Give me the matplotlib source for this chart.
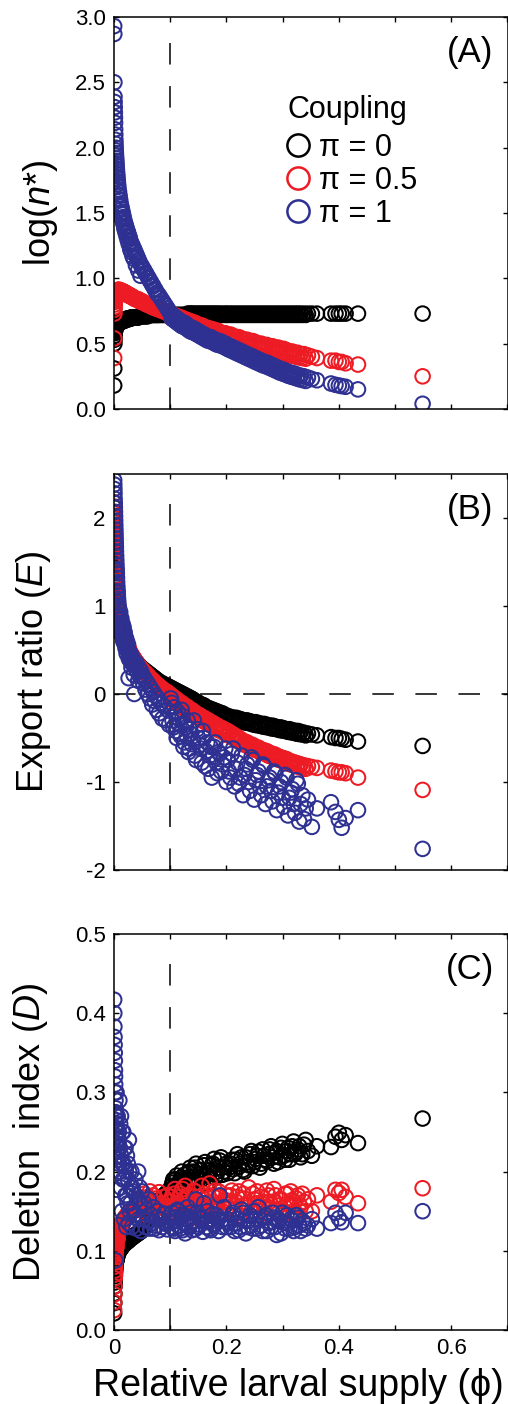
import numpy as np
import matplotlib
matplotlib.use('Agg')
import matplotlib.pyplot as plt
from matplotlib.lines import Line2D

plt.rcParams['font.family'] = ['Liberation Sans', 'DejaVu Sans']
plt.rcParams['mathtext.fontset'] = 'custom'
plt.rcParams['mathtext.it'] = 'Liberation Sans:italic'
plt.rcParams['mathtext.rm'] = 'Liberation Sans'
plt.rcParams['axes.unicode_minus'] = False
plt.rcParams['lines.scale_dashes'] = False

# ---------------- data ----------------
coupling_labels = ['π = 0', 'π = 0.5', 'π = 1']
colors = ['#000000', '#ed1c24', '#2e3192']
panel_letters = ['(A)', '(B)', '(C)']
xtick_vals = [0.0, 0.1, 0.2, 0.3, 0.4, 0.5, 0.6, 0.7]
xtick_labels = ['0', '', '0.2', '', '0.4', '', '0.6', '']
threshold_phi = 0.1

phi = [0.0003, 0.0005, 0.0007, 0.0009, 0.0011, 0.0013, 0.0015, 0.0017, 0.0019, 0.0021,
       0.0023, 0.0025, 0.0027, 0.0029, 0.0031, 0.0033, 0.0035, 0.0038, 0.0041, 0.0044,
       0.0047, 0.0050, 0.0053, 0.0056, 0.0060, 0.0064, 0.0068, 0.0072, 0.0076, 0.0080,
       0.009, 0.010, 0.011, 0.012, 0.013, 0.014, 0.015, 0.016, 0.017, 0.018,
       0.019, 0.020, 0.021, 0.022, 0.023, 0.024, 0.025, 0.026, 0.027, 0.028,
       0.030, 0.032, 0.034, 0.036, 0.038, 0.040, 0.042, 0.044, 0.046, 0.048,
       0.050, 0.052, 0.054, 0.056, 0.058, 0.060, 0.062, 0.064, 0.066, 0.068, 0.070,
       0.072, 0.074, 0.076, 0.078, 0.080, 0.083, 0.086, 0.089, 0.092, 0.095, 0.098,
       0.101, 0.104, 0.107, 0.110, 0.113, 0.116, 0.119, 0.122, 0.125, 0.128,
       0.131, 0.134, 0.137, 0.140, 0.144, 0.148, 0.152, 0.156, 0.160, 0.164,
       0.168, 0.172, 0.176, 0.180, 0.184, 0.188, 0.193, 0.198,
       0.202, 0.207, 0.212, 0.217, 0.222, 0.227, 0.232, 0.237, 0.242, 0.247,
       0.252, 0.257, 0.262, 0.267, 0.272, 0.277, 0.282, 0.287, 0.292, 0.297,
       0.302, 0.307, 0.312, 0.317, 0.322, 0.327, 0.332, 0.338,
       0.345, 0.352, 0.361, 0.386, 0.394, 0.400, 0.405, 0.412, 0.434, 0.549,
       # additional populations (near zero)
       0.0045, 0.0065, 0.0085, 0.0095, 0.0105, 0.0125, 0.0145, 0.0165, 0.0185, 0.0205,
       0.0225, 0.0245, 0.0265, 0.029, 0.031, 0.033, 0.035, 0.039, 0.043, 0.047,
       # additional populations (mid range)
       0.1025, 0.1055, 0.1085, 0.1115, 0.1145, 0.1175, 0.1205, 0.1235, 0.1265, 0.1295,
       0.1325, 0.1355, 0.1385, 0.142, 0.146, 0.150, 0.154, 0.158, 0.162, 0.166,
       0.170, 0.174, 0.178, 0.182, 0.186, 0.1905, 0.1955, 0.200,
       0.2045, 0.2095, 0.2145, 0.2195, 0.2245, 0.2295, 0.2345, 0.2395, 0.2445, 0.2495,
       0.2545, 0.2595, 0.2645, 0.2695, 0.2745, 0.2795, 0.2845, 0.2895, 0.2945, 0.2995,
       0.3045, 0.3095, 0.3145, 0.3195, 0.3245, 0.3295, 0.335, 0.341]

# Panel A: log(n*)
logn_pi0 = [0.18, 0.31, 0.50, 0.53, 0.56, 0.58, 0.59, 0.60, 0.60, 0.61,
            0.61, 0.62, 0.62, 0.62, 0.63, 0.63, 0.63, 0.63, 0.64, 0.64,
            0.64, 0.64, 0.65, 0.65, 0.65, 0.65, 0.65, 0.66, 0.66, 0.66,
            0.66, 0.66, 0.67, 0.67, 0.67, 0.67, 0.67, 0.68, 0.68, 0.68,
            0.68, 0.68, 0.68, 0.69, 0.69, 0.69, 0.69, 0.69, 0.69, 0.69,
            0.70, 0.70, 0.70, 0.70, 0.70, 0.70, 0.70, 0.71, 0.71, 0.71,
            0.71, 0.71, 0.71, 0.71, 0.71, 0.71, 0.72, 0.72, 0.72, 0.72, 0.72,
            0.72, 0.72, 0.72, 0.72, 0.72, 0.72, 0.72, 0.72, 0.72, 0.72, 0.72,
            0.72, 0.72, 0.72, 0.72, 0.72, 0.72, 0.72, 0.72, 0.72, 0.72,
            0.73, 0.73, 0.73, 0.73, 0.73, 0.73, 0.73, 0.73, 0.73, 0.73,
            0.73, 0.73, 0.73, 0.73, 0.73, 0.73, 0.73, 0.73,
            0.73, 0.73, 0.73, 0.73, 0.73, 0.73, 0.73, 0.73, 0.73, 0.73,
            0.73, 0.73, 0.73, 0.73, 0.73, 0.73, 0.73, 0.73, 0.73, 0.73,
            0.73, 0.73, 0.73, 0.73, 0.73, 0.73, 0.73, 0.73,
            0.73, 0.73, 0.73, 0.73, 0.73, 0.73, 0.73, 0.73, 0.73, 0.73,
            0.64, 0.65, 0.66, 0.66, 0.66, 0.67, 0.67, 0.68, 0.68, 0.68,
            0.69, 0.69, 0.69, 0.69, 0.70, 0.70, 0.70, 0.70, 0.70, 0.71,
            0.715, 0.715, 0.715, 0.715, 0.715, 0.715, 0.715, 0.715, 0.715, 0.72,
            0.72, 0.72, 0.72, 0.72, 0.72, 0.72, 0.72, 0.72, 0.72, 0.72,
            0.72, 0.72, 0.72, 0.72, 0.72, 0.72, 0.72, 0.72,
            0.72, 0.72, 0.72, 0.72, 0.72, 0.72, 0.72, 0.72, 0.72, 0.72,
            0.72, 0.72, 0.72, 0.72, 0.72, 0.72, 0.72, 0.72, 0.72, 0.72,
            0.72, 0.72, 0.72, 0.72, 0.72, 0.72, 0.72, 0.72]
logn_pi05 = [0.39, 0.54, 0.73, 0.76, 0.78, 0.80, 0.82, 0.83, 0.84, 0.85,
             0.86, 0.86, 0.87, 0.87, 0.88, 0.88, 0.88, 0.89, 0.89, 0.89,
             0.90, 0.90, 0.90, 0.90, 0.91, 0.91, 0.91, 0.91, 0.91, 0.91,
             0.91, 0.91, 0.91, 0.90, 0.90, 0.90, 0.90, 0.90, 0.89, 0.89,
             0.89, 0.89, 0.88, 0.88, 0.88, 0.88, 0.87, 0.87, 0.87, 0.87,
             0.86, 0.86, 0.85, 0.85, 0.84, 0.84, 0.84, 0.83, 0.83, 0.82,
             0.82, 0.82, 0.81, 0.81, 0.80, 0.80, 0.80, 0.79, 0.79, 0.78, 0.78,
             0.78, 0.77, 0.77, 0.77, 0.76, 0.76, 0.75, 0.75, 0.74, 0.74, 0.73,
             0.73, 0.72, 0.72, 0.71, 0.71, 0.70, 0.70, 0.69, 0.69, 0.68,
             0.68, 0.67, 0.67, 0.66, 0.66, 0.65, 0.64, 0.64, 0.63, 0.62,
             0.62, 0.61, 0.61, 0.60, 0.60, 0.59, 0.58, 0.58,
             0.57, 0.57, 0.56, 0.55, 0.55, 0.54, 0.53, 0.53, 0.52, 0.52,
             0.51, 0.50, 0.50, 0.49, 0.49, 0.48, 0.48, 0.47, 0.47, 0.46,
             0.46, 0.45, 0.44, 0.44, 0.43, 0.43, 0.42, 0.42,
             0.41, 0.40, 0.39, 0.37, 0.37, 0.36, 0.36, 0.35, 0.34, 0.25,
             0.89, 0.90, 0.91, 0.91, 0.91, 0.90, 0.90, 0.90, 0.89, 0.89,
             0.88, 0.88, 0.87, 0.87, 0.86, 0.86, 0.85, 0.84, 0.84, 0.83,
             0.695, 0.69, 0.685, 0.68, 0.675, 0.67, 0.665, 0.66, 0.655, 0.65,
             0.645, 0.64, 0.635, 0.63, 0.625, 0.615, 0.61, 0.605, 0.595, 0.59,
             0.585, 0.58, 0.575, 0.57, 0.565, 0.555, 0.55, 0.545,
             0.54, 0.535, 0.525, 0.52, 0.515, 0.505, 0.50, 0.495, 0.49, 0.485,
             0.475, 0.47, 0.465, 0.46, 0.455, 0.45, 0.445, 0.44, 0.435, 0.43,
             0.425, 0.415, 0.41, 0.405, 0.40, 0.395, 0.39, 0.385]
logn_pi1 = [2.93, 2.87, 2.50, 2.39, 2.35, 2.31, 2.27, 2.23, 2.19, 2.14,
            2.10, 2.06, 2.03, 2.00, 1.98, 1.96, 1.94, 1.92, 1.90, 1.88,
            1.86, 1.84, 1.82, 1.80, 1.78, 1.76, 1.74, 1.72, 1.70, 1.68,
            1.66, 1.63, 1.60, 1.57, 1.55, 1.53, 1.51, 1.49, 1.47, 1.45,
            1.43, 1.42, 1.40, 1.39, 1.37, 1.36, 1.35, 1.33, 1.32, 1.31,
            1.28, 1.26, 1.24, 1.22, 1.20, 1.18, 1.16, 1.14, 1.12, 1.10,
            1.09, 1.07, 1.06, 1.04, 1.03, 1.01, 1.00, 0.98, 0.97, 0.95, 0.94,
            0.92, 0.91, 0.89, 0.88, 0.87, 0.85, 0.83, 0.81, 0.79, 0.77, 0.75,
            0.73, 0.72, 0.71, 0.70, 0.69, 0.68, 0.67, 0.66, 0.66, 0.65,
            0.64, 0.63, 0.62, 0.62, 0.61, 0.60, 0.59, 0.58, 0.57, 0.56,
            0.55, 0.55, 0.54, 0.53, 0.52, 0.52, 0.51, 0.50,
            0.49, 0.48, 0.47, 0.46, 0.45, 0.44, 0.43, 0.42, 0.41, 0.40,
            0.39, 0.38, 0.37, 0.36, 0.355, 0.345, 0.335, 0.325, 0.315, 0.305,
            0.30, 0.29, 0.28, 0.275, 0.27, 0.26, 0.255, 0.25,
            0.24, 0.23, 0.22, 0.195, 0.185, 0.18, 0.175, 0.17, 0.15, 0.04,
            1.80, 1.72, 1.64, 1.60, 1.56, 1.50, 1.45, 1.42, 1.38, 1.35,
            1.32, 1.29, 1.26, 1.22, 1.20, 1.17, 1.15, 1.10, 1.06, 1.02,
            0.695, 0.685, 0.675, 0.665, 0.655, 0.645, 0.635, 0.63, 0.625, 0.615,
            0.605, 0.595, 0.59, 0.585, 0.575, 0.565, 0.555, 0.545, 0.535, 0.525,
            0.52, 0.515, 0.505, 0.495, 0.49, 0.485, 0.475, 0.465,
            0.455, 0.445, 0.435, 0.425, 0.415, 0.405, 0.395, 0.385, 0.375, 0.365,
            0.355, 0.345, 0.335, 0.328, 0.32, 0.31, 0.30, 0.29, 0.28, 0.272,
            0.265, 0.255, 0.248, 0.242, 0.235, 0.228, 0.222, 0.215]

# Panel B: export ratio E
E_pi0 = [2.12, 2.00, 1.95, 1.90, 1.85, 1.80, 1.75, 1.70, 1.65, 1.60,
         1.55, 1.50, 1.46, 1.42, 1.38, 1.34, 1.30, 1.26, 1.22, 1.18,
         1.14, 1.10, 1.06, 1.02, 0.99, 0.96, 0.93, 0.90, 0.87, 0.84,
         0.81, 0.78, 0.75, 0.73, 0.71, 0.69, 0.67, 0.65, 0.63, 0.61,
         0.59, 0.57, 0.56, 0.54, 0.53, 0.51, 0.50, 0.49, 0.48, 0.47,
         0.45, 0.43, 0.41, 0.39, 0.37, 0.36, 0.34, 0.33, 0.31, 0.30,
         0.29, 0.28, 0.27, 0.26, 0.25, 0.24, 0.23, 0.22, 0.21, 0.20, 0.19,
         0.18, 0.17, 0.16, 0.15, 0.14, 0.13, 0.12, 0.11, 0.10, 0.09, 0.08,
         0.07, 0.06, 0.05, 0.04, 0.03, 0.02, 0.01, 0.00, -0.01, -0.02,
         -0.03, -0.04, -0.05, -0.06, -0.08, -0.09, -0.11, -0.12, -0.13, -0.15,
         -0.16, -0.17, -0.18, -0.19, -0.20, -0.21, -0.22, -0.24,
         -0.25, -0.26, -0.27, -0.27, -0.28, -0.29, -0.30, -0.30, -0.31, -0.32,
         -0.32, -0.33, -0.34, -0.34, -0.35, -0.36, -0.36, -0.37, -0.38, -0.38,
         -0.39, -0.40, -0.40, -0.41, -0.42, -0.42, -0.43, -0.44,
         -0.45, -0.46, -0.47, -0.49, -0.50, -0.50, -0.51, -0.52, -0.54, -0.59,
         1.16, 0.95, 0.80, 0.77, 0.74, 0.70, 0.66, 0.62, 0.58, 0.55,
         0.52, 0.50, 0.47, 0.44, 0.42, 0.40, 0.38, 0.34, 0.31, 0.28,
         0.035, 0.025, 0.015, 0.005, -0.005, -0.015, -0.025, -0.035, -0.045, -0.055,
         -0.065, -0.075, -0.085, -0.10, -0.115, -0.13, -0.145, -0.155, -0.17, -0.185,
         -0.195, -0.205, -0.215, -0.225, -0.235, -0.245, -0.26, -0.27,
         -0.28, -0.29, -0.295, -0.30, -0.31, -0.32, -0.325, -0.33, -0.34, -0.35,
         -0.355, -0.36, -0.37, -0.375, -0.38, -0.39, -0.395, -0.40, -0.41, -0.415,
         -0.42, -0.43, -0.435, -0.44, -0.45, -0.455, -0.46, -0.47]
E_pi05 = [2.18, 2.13, 2.05, 2.00, 1.95, 1.90, 1.85, 1.80, 1.75, 1.70,
          1.66, 1.62, 1.58, 1.54, 1.50, 1.46, 1.42, 1.38, 1.34, 1.30,
          1.26, 1.22, 1.18, 1.14, 1.10, 1.07, 1.04, 1.01, 0.98, 0.95,
          0.93, 0.89, 0.85, 0.82, 0.79, 0.76, 0.73, 0.71, 0.69, 0.66,
          0.64, 0.62, 0.60, 0.58, 0.57, 0.55, 0.53, 0.52, 0.50, 0.49,
          0.46, 0.44, 0.42, 0.40, 0.38, 0.36, 0.34, 0.32, 0.31, 0.29,
          0.28, 0.26, 0.25, 0.24, 0.22, 0.21, 0.20, 0.18, 0.17, 0.16, 0.15,
          0.13, 0.12, 0.11, 0.10, 0.09, 0.07, 0.06, 0.04, 0.03, 0.02, 0.00,
          -0.01, -0.03, -0.04, -0.06, -0.07, -0.09, -0.10, -0.11, -0.13, -0.14,
          -0.15, -0.17, -0.18, -0.19, -0.21, -0.23, -0.24, -0.26, -0.27, -0.29,
          -0.30, -0.32, -0.33, -0.35, -0.36, -0.38, -0.39, -0.41,
          -0.42, -0.44, -0.46, -0.48, -0.50, -0.52, -0.54, -0.55, -0.57, -0.58,
          -0.60, -0.61, -0.63, -0.64, -0.65, -0.67, -0.68, -0.69, -0.71, -0.72,
          -0.73, -0.74, -0.76, -0.77, -0.78, -0.79, -0.80, -0.81,
          -0.82, -0.83, -0.84, -0.87, -0.88, -0.89, -0.89, -0.90, -0.95, -1.09,
          1.24, 1.00, 0.90, 0.87, 0.83, 0.77, 0.72, 0.68, 0.63, 0.60,
          0.56, 0.53, 0.50, 0.46, 0.43, 0.41, 0.39, 0.35, 0.31, 0.28,
          -0.06, -0.075, -0.09, -0.10, -0.12, -0.13, -0.14, -0.16, -0.17, -0.18,
          -0.20, -0.21, -0.22, -0.24, -0.26, -0.27, -0.29, -0.30, -0.32, -0.33,
          -0.35, -0.36, -0.38, -0.39, -0.41, -0.42, -0.44, -0.46,
          -0.47, -0.49, -0.51, -0.53, -0.55, -0.57, -0.58, -0.60, -0.61, -0.63,
          -0.64, -0.66, -0.67, -0.68, -0.70, -0.71, -0.72, -0.74, -0.75, -0.76,
          -0.77, -0.79, -0.80, -0.81, -0.82, -0.83, -0.84, -0.85]
E_pi1 = [2.43, 2.38, 2.33, 2.28, 2.22, 2.17, 2.12, 2.07, 2.02, 1.97,
         1.92, 1.87, 1.82, 1.77, 1.72, 1.67, 1.62, 1.57, 1.52, 1.47,
         1.42, 1.37, 1.32, 1.27, 1.22, 1.17, 1.12, 1.08, 1.04, 1.00,
         0.97, 0.90, 0.93, 0.84, 0.86, 0.78, 0.80, 0.72, 0.76, 0.66,
         0.70, 0.62, 0.64, 0.55, 0.60, 0.50, 0.56, 0.18, 0.48, 0.42,
         0.45, 0.36, 0.40, 0.00, 0.32, 0.35, 0.25, 0.30, 0.20, 0.26,
         0.22, 0.12, 0.18, 0.05, 0.14, 0.00, 0.10, -0.05, 0.06, -0.12, 0.02,
         -0.08, -0.02, -0.18, -0.05, -0.22, -0.10, -0.28, -0.14, -0.30, -0.18, -0.35,
         -0.05, -0.30, -0.15, -0.42, -0.20, -0.35, -0.48, -0.25, -0.55, -0.38,
         -0.30, -0.62, -0.45, -0.52, -0.70, -0.40, -0.58, -0.78, -0.50, -0.65,
         -0.85, -0.60, -0.72, -0.55, -0.90, -0.68, -0.80, -0.62,
         -0.75, -0.95, -0.62, -0.85, -1.02, -0.70, -0.92, -0.80, -1.10, -0.75,
         -0.98, -0.88, -1.15, -0.82, -1.05, -0.95, -1.22, -0.90, -1.12, -1.00,
         -1.28, -0.95, -1.18, -1.08, -1.35, -1.02, -1.25, -1.42,
         -1.20, -1.51, -1.30, -1.23, -1.34, -1.43, -1.52, -1.41, -1.32, -1.76,
         1.40, 1.15, 0.95, 0.88, 0.80, 0.74, 0.68, 0.60, 0.58, 0.52,
         0.46, 0.50, 0.40, 0.38, 0.30, 0.34, 0.22, 0.28, 0.15, 0.20,
         -0.10, -0.38, -0.22, -0.50, -0.28, -0.45, -0.18, -0.60, -0.35, -0.48,
         -0.66, -0.40, -0.57, -0.30, -0.75, -0.50, -0.62, -0.42, -0.82, -0.55,
         -0.70, -0.95, -0.60, -0.78, -0.66, -0.88, -0.72, -1.00,
         -0.88, -0.68, -1.05, -0.78, -0.95, -1.15, -0.85, -1.00, -0.72, -1.20,
         -0.92, -1.05, -0.80, -1.25, -0.98, -1.10, -0.88, -1.32, -1.05, -1.18,
         -0.92, -1.38, -1.12, -1.25, -0.98, -1.45, -1.15, -1.30]

# Panel C: deletion index D
D_pi0 = [0.021, 0.034, 0.046, 0.055, 0.060, 0.064, 0.068, 0.071, 0.074, 0.076,
         0.078, 0.080, 0.082, 0.083, 0.085, 0.086, 0.087, 0.088, 0.089, 0.090,
         0.091, 0.092, 0.093, 0.094, 0.095, 0.096, 0.097, 0.098, 0.099, 0.099,
         0.100, 0.101, 0.102, 0.103, 0.104, 0.105, 0.106, 0.107, 0.108, 0.108,
         0.109, 0.110, 0.110, 0.111, 0.112, 0.112, 0.113, 0.114, 0.114, 0.115,
         0.116, 0.117, 0.118, 0.119, 0.120, 0.121, 0.122, 0.123, 0.124, 0.125,
         0.126, 0.128, 0.130, 0.133, 0.135, 0.138, 0.140, 0.143, 0.145, 0.148, 0.150,
         0.152, 0.155, 0.157, 0.160, 0.162, 0.165, 0.167, 0.170, 0.172, 0.174, 0.176,
         0.178, 0.186, 0.176, 0.190, 0.182, 0.174, 0.192, 0.185, 0.196, 0.180,
         0.188, 0.200, 0.183, 0.193, 0.205, 0.186, 0.197, 0.190, 0.208, 0.195,
         0.186, 0.202, 0.210, 0.192, 0.200, 0.214, 0.196, 0.206,
         0.198, 0.210, 0.203, 0.215, 0.206, 0.218, 0.200, 0.212, 0.222, 0.207,
         0.216, 0.225, 0.210, 0.220, 0.213, 0.228, 0.218, 0.224, 0.212, 0.230,
         0.220, 0.226, 0.215, 0.232, 0.222, 0.228, 0.218, 0.234,
         0.226, 0.220, 0.232, 0.231, 0.244, 0.249, 0.240, 0.246, 0.236, 0.267,
         0.088, 0.094, 0.099, 0.100, 0.101, 0.103, 0.105, 0.107, 0.109, 0.110,
         0.111, 0.112, 0.113, 0.115, 0.116, 0.117, 0.118, 0.120, 0.122, 0.124,
         0.182, 0.190, 0.172, 0.195, 0.185, 0.178, 0.200, 0.188, 0.192, 0.176,
         0.198, 0.205, 0.188, 0.200, 0.210, 0.190, 0.202, 0.195, 0.212, 0.185,
         0.198, 0.208, 0.216, 0.195, 0.205, 0.218, 0.200, 0.210,
         0.205, 0.215, 0.198, 0.222, 0.210, 0.202, 0.218, 0.208, 0.226, 0.212,
         0.220, 0.205, 0.228, 0.215, 0.222, 0.232, 0.210, 0.226, 0.218, 0.235,
         0.215, 0.230, 0.222, 0.238, 0.225, 0.232, 0.222, 0.240]
D_pi05 = [0.025, 0.035, 0.045, 0.055, 0.095, 0.065, 0.070, 0.075, 0.080, 0.085,
          0.088, 0.092, 0.095, 0.098, 0.100, 0.103, 0.105, 0.107, 0.110, 0.112,
          0.114, 0.116, 0.118, 0.120, 0.122, 0.124, 0.126, 0.127, 0.129, 0.130,
          0.131, 0.132, 0.133, 0.134, 0.135, 0.136, 0.137, 0.138, 0.139, 0.140,
          0.141, 0.142, 0.143, 0.144, 0.145, 0.146, 0.147, 0.148, 0.149, 0.150,
          0.151, 0.152, 0.153, 0.154, 0.155, 0.156, 0.157, 0.158, 0.159, 0.160,
          0.165, 0.150, 0.172, 0.158, 0.145, 0.168, 0.155, 0.175, 0.148, 0.162, 0.170,
          0.152, 0.166, 0.158, 0.145, 0.174, 0.160, 0.150, 0.168, 0.156, 0.170, 0.148,
          0.162, 0.150, 0.172, 0.158, 0.145, 0.168, 0.155, 0.178, 0.148, 0.165,
          0.152, 0.170, 0.158, 0.142, 0.175, 0.160, 0.150, 0.182, 0.165, 0.155,
          0.170, 0.148, 0.162, 0.176, 0.156, 0.168, 0.150, 0.164,
          0.155, 0.170, 0.148, 0.162, 0.175, 0.152, 0.166, 0.158, 0.145, 0.172,
          0.160, 0.150, 0.168, 0.155, 0.176, 0.162, 0.148, 0.170, 0.157, 0.165,
          0.150, 0.172, 0.158, 0.164, 0.148, 0.170, 0.155, 0.162,
          0.165, 0.150, 0.170, 0.162, 0.177, 0.173, 0.177, 0.168, 0.160, 0.179,
          0.105, 0.115, 0.125, 0.128, 0.130, 0.132, 0.134, 0.136, 0.138, 0.140,
          0.142, 0.144, 0.146, 0.148, 0.150, 0.152, 0.154, 0.156, 0.158, 0.160,
          0.168, 0.155, 0.178, 0.145, 0.160, 0.172, 0.150, 0.165, 0.182, 0.155,
          0.170, 0.148, 0.162, 0.176, 0.152, 0.168, 0.158, 0.145, 0.172, 0.160,
          0.185, 0.152, 0.168, 0.158, 0.175, 0.146, 0.162, 0.170,
          0.160, 0.176, 0.152, 0.168, 0.145, 0.172, 0.158, 0.180, 0.150, 0.165,
          0.175, 0.155, 0.162, 0.148, 0.170, 0.158, 0.178, 0.152, 0.165, 0.145,
          0.172, 0.160, 0.175, 0.150, 0.166, 0.158, 0.172, 0.150]
D_pi1 = [0.417, 0.400, 0.383, 0.370, 0.360, 0.350, 0.340, 0.328, 0.320, 0.310,
         0.300, 0.088, 0.290, 0.280, 0.275, 0.270, 0.236, 0.265, 0.260, 0.255,
         0.250, 0.177, 0.245, 0.240, 0.235, 0.230, 0.225, 0.220, 0.215, 0.210,
         0.240, 0.200, 0.260, 0.180, 0.220, 0.150, 0.250, 0.190, 0.210, 0.140,
         0.230, 0.170, 0.200, 0.130, 0.220, 0.160, 0.190, 0.135, 0.200, 0.150,
         0.180, 0.130, 0.175, 0.145, 0.190, 0.128, 0.165, 0.140, 0.180, 0.125,
         0.175, 0.140, 0.160, 0.130, 0.152, 0.138, 0.165, 0.128, 0.145, 0.135, 0.155,
         0.128, 0.142, 0.132, 0.150, 0.126, 0.140, 0.130, 0.147, 0.134, 0.127, 0.142,
         0.135, 0.148, 0.128, 0.142, 0.152, 0.132, 0.140, 0.126, 0.145, 0.135,
         0.155, 0.130, 0.142, 0.137, 0.127, 0.148, 0.133, 0.140, 0.160, 0.130,
         0.138, 0.126, 0.146, 0.134, 0.140, 0.170, 0.130, 0.137,
         0.140, 0.130, 0.148, 0.135, 0.126, 0.152, 0.138, 0.130, 0.145, 0.128,
         0.140, 0.155, 0.132, 0.142, 0.125, 0.137, 0.148, 0.130, 0.140, 0.122,
         0.135, 0.145, 0.128, 0.138, 0.130, 0.142, 0.125, 0.135,
         0.132, 0.140, 0.128, 0.135, 0.148, 0.141, 0.136, 0.148, 0.135, 0.150,
         0.300, 0.270, 0.250, 0.290, 0.230, 0.270, 0.210, 0.250, 0.190, 0.230,
         0.170, 0.210, 0.240, 0.160, 0.200, 0.180, 0.150, 0.170, 0.200, 0.160,
         0.130, 0.142, 0.125, 0.138, 0.150, 0.128, 0.145, 0.135, 0.122, 0.140,
         0.132, 0.148, 0.126, 0.138, 0.165, 0.130, 0.142, 0.124, 0.136, 0.150,
         0.128, 0.140, 0.132, 0.145, 0.125, 0.138, 0.155, 0.130,
         0.135, 0.145, 0.125, 0.140, 0.130, 0.148, 0.122, 0.138, 0.132, 0.150,
         0.128, 0.140, 0.125, 0.145, 0.135, 0.130, 0.142, 0.120, 0.138, 0.148,
         0.128, 0.135, 0.140, 0.125, 0.145, 0.132, 0.138, 0.128]

panels = [
    dict(series=[logn_pi0, logn_pi05, logn_pi1], ylim=(0, 3.0),
         yticks=[0.0, 0.5, 1.0, 1.5, 2.0, 2.5, 3.0],
         yticklabels=['0.0', '0.5', '1.0', '1.5', '2.0', '2.5', '3.0'],
         ylabel='log($n$*)', ylabel_x=-0.137, hline=None),
    dict(series=[E_pi0, E_pi05, E_pi1], ylim=(-2, 2.5),
         yticks=[-2, -1, 0, 1, 2],
         yticklabels=['-2', '-1', '0', '1', '2'],
         ylabel='Export ratio ($E$)', ylabel_x=-0.155, hline=0.0),
    dict(series=[D_pi0, D_pi05, D_pi1], ylim=(0, 0.5),
         yticks=[0.0, 0.1, 0.2, 0.3, 0.4, 0.5],
         yticklabels=['0.0', '0.1', '0.2', '0.3', '0.4', '0.5'],
         ylabel='Deletion  index ($D$)', ylabel_x=-0.163, hline=None),
]

# ---------------- figure ----------------
W, H = 508, 1404
fig = plt.figure(figsize=(W / 100, H / 100), dpi=100)


def axes_px(left, top, right, bottom):
    return fig.add_axes([left / W, 1 - bottom / H, (right - left) / W, (bottom - top) / H])


boxes = [(114, 17, 507.5, 409), (114, 474, 507.5, 870), (114, 934, 507.5, 1330)]
dash = (0, (15.5, 15.5))
axes = []
for i, (p, box) in enumerate(zip(panels, boxes)):
    ax = axes_px(*box)
    axes.append(ax)
    for ys, c, lab in zip(p['series'], colors, coupling_labels):
        ax.scatter(phi, ys, s=110, facecolors='none', edgecolors=c,
                   linewidths=1.45, zorder=2, label=lab)
    ax.axvline(threshold_phi, ymin=0, ymax=0.94, color='black', lw=1.1,
               linestyle=dash, zorder=1)
    if p['hline'] is not None:
        ax.axhline(p['hline'], color='black', lw=1.1, linestyle=dash, zorder=1)
    ax.set_xlim(0, 0.7)
    ax.set_ylim(*p['ylim'])
    ax.set_xticks(xtick_vals)
    if i == 2:
        ax.set_xticklabels(xtick_labels)
    else:
        ax.set_xticklabels([])
    ax.set_yticks(p['yticks'])
    ax.set_yticklabels(p['yticklabels'])
    ax.tick_params(direction='in', top=True, right=True, length=3.5, width=1.0,
                   labelsize=16, pad=6)
    for sp in ax.spines.values():
        sp.set_linewidth(1.1)
    ax.set_ylabel(p['ylabel'], fontsize=26)
    ax.yaxis.set_label_coords(p['ylabel_x'], 0.5)
    ax.text(0.905, 0.91, panel_letters[i], transform=ax.transAxes,
            ha='center', va='center', fontsize=25)

axes[2].set_xlabel('Relative larval supply (\u03d5)', fontsize=27)
axes[2].xaxis.set_label_coords(0.469, -0.095)

handles = [Line2D([], [], ls='none', marker='o', ms=16, mfc='none', mec=c, mew=1.8)
           for c in colors]
leg = axes[0].legend(handles, coupling_labels, title='Coupling', loc='upper left',
                     bbox_to_anchor=(0.418, 0.822), frameon=False, fontsize=22,
                     title_fontsize=22, alignment='left', handlelength=0.75,
                     handletextpad=0.3, labelspacing=0.1, borderpad=0.28,
                     borderaxespad=0)
leg._legend_box.sep = 5.5

fig.savefig('out.png', dpi=100)
